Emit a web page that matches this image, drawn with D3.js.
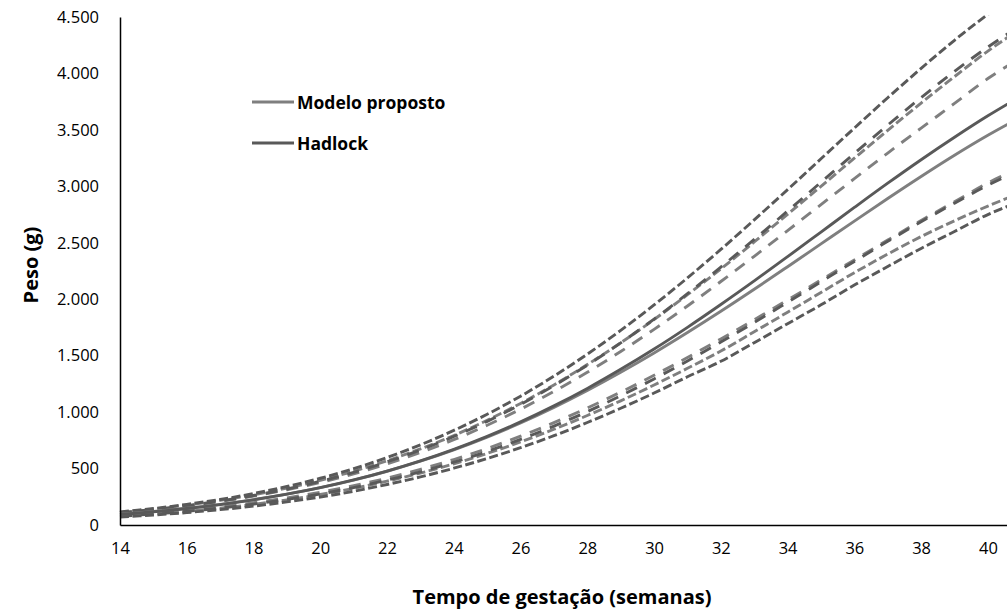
<!DOCTYPE html>
<html>
<head>
<meta charset="utf-8">
<script src="https://cdn.jsdelivr.net/npm/d3@7"></script>
<style>
    body { margin: 0; background: #fff; }
    text { font-family: "Open Sans", "Noto Sans", sans-serif; }
</style>
</head>
<body>
<div id="graph"></div>
<script>
/*global d3 */

// semanas de gestação
var semanas = [14, 15, 16, 17, 18, 19, 20, 21, 22, 23, 24, 25, 26, 27,
               28, 29, 30, 31, 32, 33, 34, 35, 36, 37, 38, 39, 40, 41];
var ticksSemanas = [14, 16, 18, 20, 22, 24, 26, 28, 30, 32, 34, 36, 38, 40];
var ticksPeso = [0, 500, 1000, 1500, 2000, 2500, 3000, 3500, 4000, 4500];

// Hadlock (g)
var hadlockP50 = [93, 117, 146, 181, 223, 273, 331, 399, 478, 568, 670, 785, 913, 1055,
                  1210, 1379, 1559, 1751, 1953, 2162, 2377, 2595, 2813, 3028, 3236, 3435, 3625, 3800];
var hadlockP97 = [116, 146, 183, 226, 279, 341, 414, 499, 598, 710, 838, 981, 1141, 1319,
                  1513, 1724, 1949, 2189, 2441, 2703, 2971, 3244, 3516, 3785, 4045, 4294, 4524, 4740];
var hadlockP90 = [109, 137, 171, 212, 261, 319, 387, 467, 559, 665, 784, 918, 1068, 1234,
                  1416, 1613, 1824, 2049, 2285, 2530, 2781, 3036, 3291, 3543, 3786, 4019, 4234, 4430];
var hadlockP10 = [77, 97, 121, 150, 185, 227, 275, 331, 398, 471, 556, 652, 758, 876,
                  1004, 1145, 1294, 1453, 1621, 1794, 1973, 2154, 2335, 2513, 2686, 2851, 3010, 3150];
var hadlockP3 = [70, 88, 110, 136, 167, 205, 248, 299, 359, 426, 503, 589, 685, 791,
                 908, 1034, 1169, 1313, 1450, 1615, 1783, 1950, 2125, 2290, 2450, 2600, 2750, 2870];

// Modelo proposto (g)
var modeloP50 = [95, 119, 148, 183, 225, 274, 331, 398, 476, 565, 666, 779, 904, 1042,
                 1192, 1353, 1524, 1705, 1893, 2088, 2288, 2490, 2692, 2892, 3087, 3275, 3452, 3615];
var modeloSup2 = [112, 141, 176, 218, 268, 327, 396, 476, 569, 674, 793, 928, 1077, 1241,
                  1421, 1614, 1820, 2040, 2268, 2507, 2752, 3000, 3249, 3496, 3738, 3972, 4198, 4400];
var modeloSup1 = [108, 135, 168, 208, 256, 312, 377, 453, 542, 642, 756, 884, 1026, 1183,
                  1353, 1537, 1733, 1940, 2157, 2380, 2608, 2838, 3068, 3295, 3516, 3735, 3955, 4140];
var modeloInf1 = [83, 104, 129, 160, 197, 240, 290, 348, 415, 493, 580, 678, 787, 907,
                  1037, 1177, 1326, 1484, 1648, 1818, 1993, 2170, 2348, 2524, 2697, 2863, 3030, 3170];
var modeloInf2 = [78, 97, 121, 149, 183, 223, 270, 324, 388, 460, 542, 634, 736, 848,
                  970, 1100, 1240, 1388, 1541, 1712, 1885, 2060, 2235, 2400, 2555, 2695, 2825, 2945];

function dessin() {
    "use strict";
    var largeur = 1007, hauteur = 612,
        gris = "#7f7f7f",
        fonce = "#595959",
        svg = d3.select("#graph").append("svg")
            .attr("width", largeur)
            .attr("height", hauteur),
        x = d3.scaleLinear().domain([14, 41]).range([120, 120 + 27 * 33.38]),
        y = d3.scaleLinear().domain([0, 4500]).range([525, 17]),
        fmt = d3.formatLocale({decimal: ",", thousands: ".", grouping: [3], currency: ["R$", ""]}).format(","),
        // courbes : données, couleur, pointillés
        series = [
            {v: modeloInf2, c: gris, d: "9,3.5"},
            {v: modeloInf1, c: gris, d: "12,9"},
            {v: modeloSup1, c: gris, d: "12,9"},
            {v: modeloSup2, c: gris, d: "9,3.5"},
            {v: hadlockP3, c: fonce, d: "9,3.5"},
            {v: hadlockP10, c: fonce, d: "12,9"},
            {v: hadlockP90, c: fonce, d: "12,9"},
            {v: hadlockP97, c: fonce, d: "9,3.5"},
            {v: modeloP50, c: gris, d: null},
            {v: hadlockP50, c: fonce, d: null}
        ],
        ligne = d3.line()
            .x(function (d, i) { return x(semanas[i]); })
            .y(function (d) { return y(d); })
            .curve(d3.curveCatmullRom),
        gx, gy, legende;

    svg.append("clipPath").attr("id", "zone")
        .append("rect")
        .attr("x", 119).attr("y", 15)
        .attr("width", largeur).attr("height", 515);

    svg.append("g")
        .attr("clip-path", "url(#zone)")
        .selectAll("path")
        .data(series)
        .enter()
        .append("path")
        .attr("fill", "none")
        .attr("stroke", function (d) { return d.c; })
        .attr("stroke-width", 2.9)
        .attr("stroke-dasharray", function (d) { return d.d; })
        .attr("d", function (d) { return ligne(d.v); });

    gx = svg.append("g")
        .attr("transform", "translate(0,525)")
        .call(d3.axisBottom(x).tickValues(ticksSemanas).tickSize(0).tickPadding(17));
    gy = svg.append("g")
        .attr("transform", "translate(120,0)")
        .call(d3.axisLeft(y).tickValues(ticksPeso).tickFormat(fmt).tickSize(0).tickSizeOuter(0).tickPadding(21));
    [gx, gy].forEach(function (g) {
        g.select(".domain").attr("stroke", "#000").attr("stroke-width", 1.5);
        g.selectAll("text").attr("font-size", 16.5).attr("fill", "#000")
            .style("font-family", "'Open Sans', sans-serif");
    });

    svg.append("text")
        .attr("x", 562).attr("y", 604)
        .attr("text-anchor", "middle")
        .attr("font-size", 20).attr("font-weight", "bold")
        .text("Tempo de gestação (semanas)");
    svg.append("text")
        .attr("transform", "translate(38,265) rotate(-90)")
        .attr("text-anchor", "middle")
        .attr("font-size", 20).attr("font-weight", "bold")
        .text("Peso (g)");

    legende = svg.selectAll(".leg")
        .data([{n: "Modelo proposto", c: gris}, {n: "Hadlock", c: fonce}])
        .enter()
        .append("g")
        .attr("transform", function (d, i) { return "translate(252," + (102 + i * 41) + ")"; });
    legende.append("line")
        .attr("x1", 0).attr("x2", 42)
        .attr("stroke", function (d) { return d.c; })
        .attr("stroke-width", 2.9);
    legende.append("text")
        .attr("x", 45).attr("y", 6.5)
        .attr("font-size", 17.5).attr("font-weight", "bold")
        .text(function (d) { return d.n; });
}

dessin();
</script>
</body>
</html>
